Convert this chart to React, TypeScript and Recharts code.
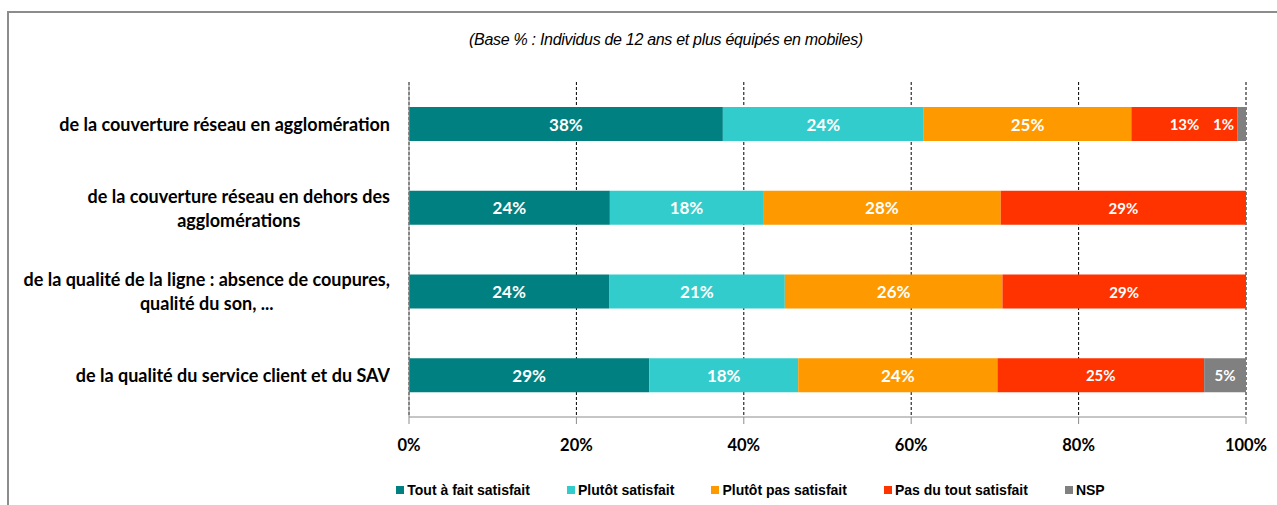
import {
  BarChart,
  Bar,
  XAxis,
  YAxis,
  CartesianGrid,
  Legend,
  LabelList,
} from "recharts";

const categories = [
  "de la couverture réseau en agglomération",
  "de la couverture réseau en dehors des\nagglomérations",
  "de la qualité de la ligne : absence de coupures,\nqualité du son, ...",
  "de la qualité du service client et du SAV",
];

const toutAFait = [37.5, 24.0, 23.9, 28.7];
const plutotSatisfait = [24.0, 18.3, 21.0, 17.8];
const plutotPas = [24.8, 28.4, 26.0, 23.8];
const pasDuTout = [12.7, 29.3, 29.1, 24.7];
const nsp = [1.0, 0, 0, 5.0];

const seriesNames = [
  "Tout à fait satisfait",
  "Plutôt satisfait",
  "Plutôt pas satisfait",
  "Pas du tout satisfait",
  "NSP",
];
const seriesColors = ["#008080", "#33CCCC", "#FF9900", "#FF3300", "#808080"];
const xTicks = [0, 20, 40, 60, 80, 100];
const bandTicks = [0, 1, 2, 3, 4];

const data = categories.map((name, i) => ({
  name,
  s0: toutAFait[i],
  s1: plutotSatisfait[i],
  s2: plutotPas[i],
  s3: pasDuTout[i],
  s4: nsp[i],
}));

const LABEL_FONT = "Lato, 'Open Sans', sans-serif";
const ARIAL = "'Liberation Sans', Arial, sans-serif";

// category labels: right-aligned block, lines centered inside it
const CategoryTick = (props: any) => {
  const { y, payload } = props;
  return (
    <foreignObject x={0} y={y - 30} width={390} height={60}>
      <div
        style={{
          width: 390,
          height: 60,
          display: "flex",
          alignItems: "center",
          justifyContent: "flex-end",
        }}
      >
        <div
          style={{
            textAlign: "center",
            whiteSpace: "pre-line",
            fontFamily: LABEL_FONT,
            fontWeight: 700,
            fontSize: 18,
            lineHeight: "24px",
            color: "#000",
          }}
        >
          {payload.value}
        </div>
      </div>
    </foreignObject>
  );
};

const LegendContent = () => (
  <div
    style={{
      display: "flex",
      justifyContent: "center",
      alignItems: "center",
      height: 18,
      fontFamily: ARIAL,
      fontWeight: 700,
      fontSize: 14,
      color: "#000",
    }}
  >
    {seriesNames.map((n, i) => (
      <span
        key={n}
        style={{
          display: "flex",
          alignItems: "center",
          marginRight: i < seriesNames.length - 1 ? 37 : 0,
        }}
      >
        <span
          style={{
            width: 8,
            height: 8,
            background: seriesColors[i],
            marginRight: 3,
            display: "inline-block",
          }}
        />
        {n}
      </span>
    ))}
  </div>
);

const pct = (v: any) => (v > 0 ? `${Math.round(v)}%` : "");

// value label; a very thin segment gets its label pulled left, as in the original
const makeLabel = (fontSize: number) => (props: any) => {
  const { x, y, width, height, value } = props;
  if (!(value > 0)) return null;
  const thin = width < 20;
  return (
    <text
      x={thin ? x + width - 12 : x + width / 2}
      y={y + height / 2}
      textAnchor={thin ? "end" : "middle"}
      dominantBaseline="central"
      fill="#fff"
      fontFamily={LABEL_FONT}
      fontWeight={700}
      fontSize={fontSize}
    >
      {pct(value)}
    </text>
  );
};

export default function App() {
  return (
    <div
      style={{
        position: "absolute",
        left: 0,
        top: 0,
        width: 1277,
        height: 505,
        overflow: "hidden",
        background: "#fff",
      }}
    >
      <div
        style={{
          position: "absolute",
          left: 7,
          top: 11,
          width: 1400,
          height: 600,
          border: "2px solid #8c8c8c",
        }}
      />
      <div
        style={{
          position: "absolute",
          left: 0,
          width: 1332,
          top: 31,
          textAlign: "center",
          fontFamily: ARIAL,
          fontStyle: "italic",
          fontSize: 16,
          letterSpacing: -0.3,
          color: "#000",
        }}
      >
        (Base % : Individus de 12 ans et plus équipés en mobiles)
      </div>
      <BarChart
        width={1277}
        height={505}
        data={data}
        layout="vertical"
        barSize={34}
        margin={{ top: 82, right: 31, bottom: 40, left: 0 }}
        style={{ position: "absolute", left: 0, top: 0 }}
      >
        <CartesianGrid
          horizontal={false}
          stroke="#000"
          strokeDasharray="3 2"
        />
        <XAxis
          type="number"
          domain={[0, 100]}
          ticks={xTicks}
          tickFormatter={(v) => `${v}%`}
          axisLine={{ stroke: "#8c8c8c" }}
          tickLine={{ stroke: "#8c8c8c" }}
          tickSize={7}
          tickMargin={15}
          tick={{
            fill: "#000",
            fontFamily: LABEL_FONT,
            fontWeight: 700,
            fontSize: 16.5,
          }}
        />
        {/* axis line with tick marks between the category bands */}
        <YAxis
          yAxisId={0}
          type="number"
          domain={[0, 4]}
          ticks={bandTicks}
          allowDataOverflow
          width={6}
          tick={false}
          tickLine={{ stroke: "#8c8c8c" }}
          tickSize={6}
          axisLine={{ stroke: "#8c8c8c" }}
        />
        <YAxis
          yAxisId="cat"
          type="category"
          dataKey="name"
          width={403}
          tickLine={false}
          axisLine={false}
          tick={<CategoryTick />}
        />
        <Legend
          verticalAlign="bottom"
          content={<LegendContent />}
          wrapperStyle={{ bottom: 6, left: 216, width: 1069 }}
        />
        {seriesNames.map((n, i) => (
          <Bar
            key={n}
            yAxisId="cat"
            dataKey={`s${i}`}
            name={n}
            stackId="a"
            fill={seriesColors[i]}
            isAnimationActive={false}
          >
            <LabelList
              dataKey={`s${i}`}
              content={makeLabel(i >= 3 ? 15 : 17)}
            />
          </Bar>
        ))}
      </BarChart>
    </div>
  );
}
